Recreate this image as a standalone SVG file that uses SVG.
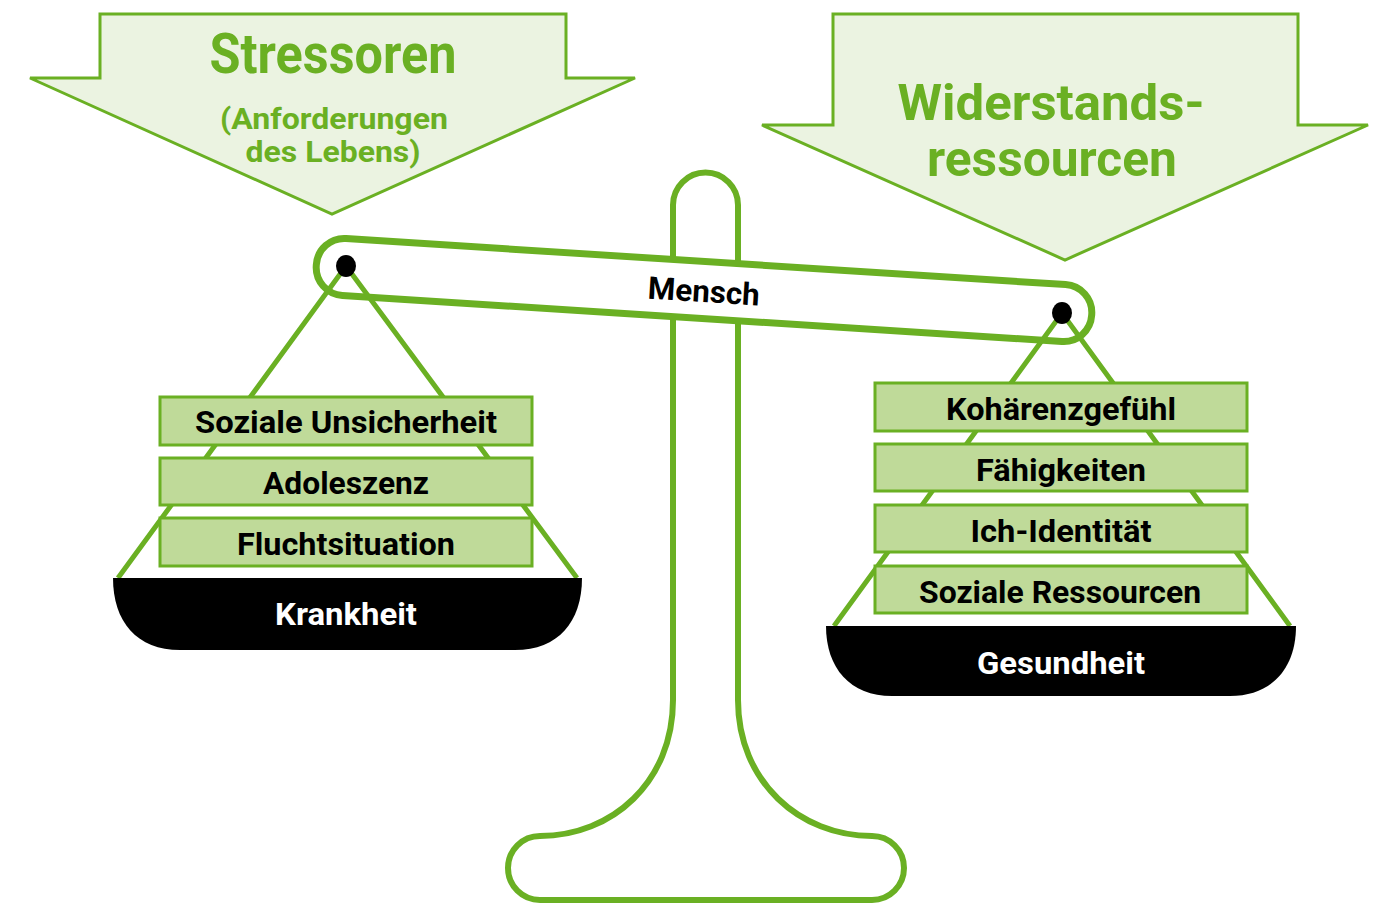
<svg xmlns="http://www.w3.org/2000/svg" width="1383" height="906" viewBox="0 0 1383 906">
<style>
.arrow{fill:#ebf3e1;stroke:#6ab023;stroke-width:3;stroke-linejoin:miter}
.gt{fill:#6ab023;font-family:"Liberation Sans Narrow","Roboto","Liberation Sans",sans-serif;font-weight:bold;text-anchor:middle}
.box{fill:#bfda99;stroke:#6ab023;stroke-width:3}
.bt{fill:#000;font-family:"Liberation Sans Narrow","Roboto","Liberation Sans",sans-serif;font-weight:bold;font-size:31px;text-anchor:middle}
.wt{fill:#fff;font-family:"Liberation Sans Narrow","Roboto","Liberation Sans",sans-serif;font-weight:bold;font-size:31px;text-anchor:middle}
.str{stroke:#6ab023;stroke-width:5;fill:none}
.pan{fill:#000}
</style>
<rect width="1383" height="906" fill="#fff"/>
<g id="stressoren">
<path class="arrow" d="M100,14 L566,14 L566,78 L635,78 L332,214 L30,78 L100,78 Z"/>
<text class="gt" x="333" y="73" font-size="55" textLength="247" lengthAdjust="spacingAndGlyphs">Stressoren</text>
<text class="gt" x="334" y="129" font-size="29" textLength="228" lengthAdjust="spacingAndGlyphs">(Anforderungen</text>
<text class="gt" x="333" y="162" font-size="29" textLength="175" lengthAdjust="spacingAndGlyphs">des Lebens)</text>
</g>
<g id="widerstandsressourcen">
<path class="arrow" d="M833,14 L1298,14 L1298,125 L1368,125 L1065,260 L762,125 L833,125 Z"/>
<text class="gt" x="1051" y="120" font-size="50" textLength="307" lengthAdjust="spacingAndGlyphs">Widerstands-</text>
<text class="gt" x="1052" y="176" font-size="50" textLength="250" lengthAdjust="spacingAndGlyphs">ressourcen</text>
</g>
<g id="stand">
<path d="M673,700 L673,205 A32.5,32.5 0 0 1 738,205 L738,700 C738,782 800,836 872,836 A32,32 0 0 1 872,900 L540,900 A32,32 0 0 1 540,836 C612,836 673,782 673,700 Z" fill="#fff" stroke="#6ab023" stroke-width="6"/>
</g>
<g id="beam" transform="rotate(3.66 704 290)">
<rect x="315.5" y="261.5" width="777" height="57" rx="28" fill="#fff" stroke="#6ab023" stroke-width="7"/>
<text class="bt" x="704" y="302" font-size="29" textLength="112" lengthAdjust="spacingAndGlyphs">Mensch</text>
</g>
<g id="connectors">
<path class="str" d="M118,578 L346,266 L577,578"/>
<path class="str" d="M834,626 L1062,313 L1290,626"/>
</g>
<g id="pivots">
<ellipse cx="346" cy="266" rx="10" ry="11" fill="#000"/>
<ellipse cx="1062" cy="313" rx="10" ry="11" fill="#000"/>
</g>
<g id="soziale-unsicherheit">
<rect class="box" x="160" y="397" width="372" height="48"/>
<text class="bt" x="346" y="433" textLength="302" lengthAdjust="spacingAndGlyphs">Soziale Unsicherheit</text>
</g>
<g id="adoleszenz">
<rect class="box" x="160" y="458" width="372" height="47"/>
<text class="bt" x="346" y="494" textLength="166" lengthAdjust="spacingAndGlyphs">Adoleszenz</text>
</g>
<g id="fluchtsituation">
<rect class="box" x="160" y="518" width="372" height="48"/>
<text class="bt" x="346" y="555" textLength="218" lengthAdjust="spacingAndGlyphs">Fluchtsituation</text>
</g>
<g id="krankheit">
<path class="pan" d="M113,578 L582,578 C582,622 558,650 515,650 L180,650 C137,650 113,622 113,578 Z"/>
<text class="wt" x="346" y="625" textLength="142" lengthAdjust="spacingAndGlyphs">Krankheit</text>
</g>
<g id="kohaerenzgefuehl">
<rect class="box" x="875" y="383" width="372" height="48"/>
<text class="bt" x="1061" y="420" textLength="230" lengthAdjust="spacingAndGlyphs">Kohärenzgefühl</text>
</g>
<g id="faehigkeiten">
<rect class="box" x="875" y="444" width="372" height="47"/>
<text class="bt" x="1061" y="481" textLength="170" lengthAdjust="spacingAndGlyphs">Fähigkeiten</text>
</g>
<g id="ich-identitaet">
<rect class="box" x="875" y="505" width="372" height="47"/>
<text class="bt" x="1061" y="542" textLength="181" lengthAdjust="spacingAndGlyphs">Ich-Identität</text>
</g>
<g id="soziale-ressourcen">
<rect class="box" x="875" y="566" width="372" height="47"/>
<text class="bt" x="1060" y="603" textLength="282" lengthAdjust="spacingAndGlyphs">Soziale Ressourcen</text>
</g>
<g id="gesundheit">
<path class="pan" d="M826,626 L1296,626 C1296,668 1272,696 1230,696 L892,696 C850,696 826,668 826,626 Z"/>
<text class="wt" x="1061" y="674" textLength="168" lengthAdjust="spacingAndGlyphs">Gesundheit</text>
</g>
</svg>
